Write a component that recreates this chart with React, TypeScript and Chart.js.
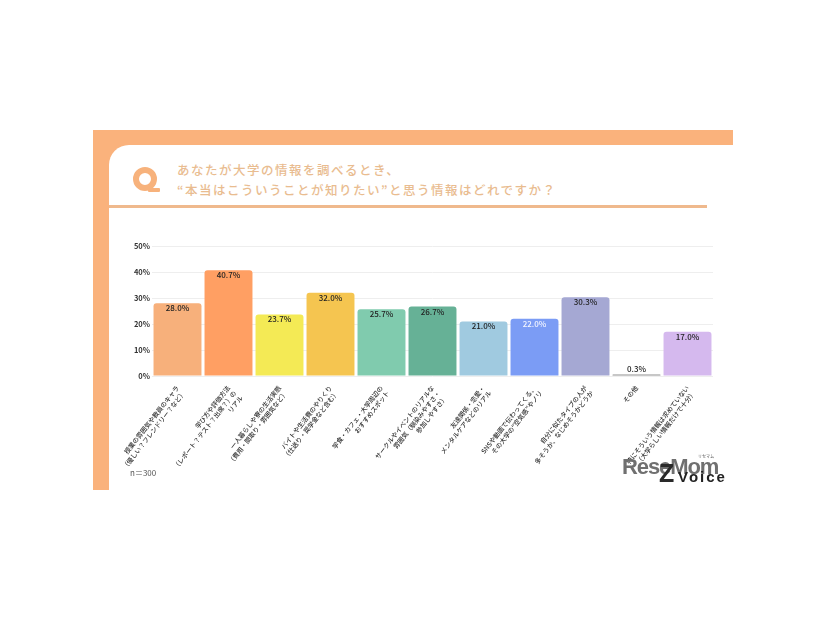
import React, { useEffect, useRef } from "react";
import { Chart, registerables } from "chart.js";

Chart.register(...registerables);

const categories: string[][] = [
  ["授業の雰囲気や教員のキャラ", "（優しい？フレンドリー？など）"],
  ["学び方や評価方法", "（レポート？テスト？出席？）の", "リアル"],
  ["一人暮らしや寮の生活実態", "（費用・間取り・雰囲気など）"],
  ["バイトや生活費のやりくり", "（仕送り・奨学金など含む）"],
  ["学食・カフェ・大学周辺の", "おすすめスポット"],
  ["サークルやイベントのリアルな", "雰囲気（馴染みやすさ・", "参加しやすさ）"],
  ["友達関係・恋愛・", "メンタルケアなどのリアル"],
  ["SNSや動画で伝わってくる、", "その大学の“空気感”やノリ"],
  ["自分に似たタイプの人が", "多そうか、なじめそうかどうか"],
  ["その他"],
  ["特にそういう情報は求めていない", "（大学らしい情報だけで十分）"],
];
const values = [28.0, 40.7, 23.7, 32.0, 25.7, 26.7, 21.0, 22.0, 30.3, 0.3, 17.0];
const barColors = ["#F7B07B", "#FF9F63", "#F4EA55", "#F5C550", "#80CBAE", "#66B196", "#A0CAE0", "#7B9CF5", "#A5A8D3", "#8F8F8F", "#D5B9EE"];
const valueColors = ["#222", "#222", "#222", "#222", "#222", "#222", "#222", "#F4F6FF", "#222", "#222", "#222"];
const yTicks = [0, 10, 20, 30, 40, 50];
const titleLines = ["あなたが大学の情報を調べるとき、", "“本当はこういうことが知りたい”と思う情報はどれですか？"];

const FONT = '"Noto Sans CJK JP", "Noto Sans", sans-serif';

const valueLabels = {
  id: "valueLabels",
  afterDatasetsDraw(chart: any) {
    const { ctx } = chart;
    const meta = chart.getDatasetMeta(0);
    ctx.save();
    ctx.font = `500 8px ${FONT}`;
    ctx.textAlign = "center";
    ctx.textBaseline = "middle";
    meta.data.forEach((bar: any, i: number) => {
      const small = values[i] < 2;
      ctx.fillStyle = valueColors[i];
      ctx.fillText(values[i].toFixed(1) + "%", bar.x, small ? bar.y - 6 : bar.y + 5);
    });
    ctx.restore();
  },
};

export default function App() {
  const ref = useRef<HTMLCanvasElement>(null);
  useEffect(() => {
    const chart = new Chart(ref.current!, {
      type: "bar",
      data: {
        labels: categories,
        datasets: [
          {
            data: values,
            backgroundColor: barColors,
            borderRadius: { topLeft: 3, topRight: 3 },
            borderSkipped: "bottom",
            categoryPercentage: 1,
            barPercentage: 0.94,
            minBarLength: 1.5,
          },
        ],
      },
      options: {
        animation: false,
        responsive: false,
        maintainAspectRatio: false,
        layout: { padding: { left: 0, top: 246, right: 113, bottom: 0 } },
        plugins: { legend: { display: false }, tooltip: { enabled: false } },
        scales: {
          x: {
            grid: { display: false },
            border: { display: false },
            ticks: {
              autoSkip: false,
              minRotation: 52,
              maxRotation: 52,
              padding: 0,
              color: "#333",
              font: { family: FONT, size: 6.5, weight: 500, lineHeight: 1.25 },
            },
            afterFit(scale: any) {
              scale.height = 244;
            },
          },
          y: {
            min: 0,
            max: 50,
            border: { display: false },
            grid: { color: "#EEEEEE", lineWidth: 1, drawTicks: false },
            afterBuildTicks(scale: any) {
              scale.ticks = yTicks.map((value) => ({ value }));
            },
            ticks: {
              padding: 2,
              color: "#333",
              font: { family: FONT, size: 7.5, weight: 700 },
              callback: (v: any) => v + "%",
            },
            afterFit(scale: any) {
              scale.width = 152;
            },
          },
        },
      },
      plugins: [valueLabels],
    });
    return () => chart.destroy();
  }, []);

  const abs = (s: React.CSSProperties): React.CSSProperties => ({ position: "absolute", ...s });
  return (
    <div style={abs({ left: 0, top: 0, width: 826, height: 620, background: "#fff", overflow: "hidden", fontFamily: FONT })}>
      <div style={abs({ left: 93, top: 130, width: 640, height: 360, background: "#FAB27C" })} />
      <div style={abs({ left: 109, top: 145, width: 624, height: 345, background: "#fff", borderTopLeftRadius: 20 })} />
      <div style={abs({ left: 109, top: 205, width: 598, height: 3, background: "#EFB98D" })} />
      <div style={abs({ left: 133, top: 167, width: 12, height: 12, border: "6px solid #F7B27C", borderRadius: "50%" })} />
      <div style={abs({ left: 148, top: 188, width: 12, height: 4, background: "#F7B27C", borderRadius: 1 })} />
      {titleLines.map((t, i) => (
        <div key={i} style={abs({ left: 177, top: 160 + i * 20, fontSize: 12.5, lineHeight: "20px", letterSpacing: 1.5, fontWeight: 500, color: "#E9BC90", whiteSpace: "nowrap" })}>
          {t}
        </div>
      ))}
      <canvas ref={ref} width={826} height={620} style={abs({ left: 0, top: 0, width: 826, height: 620 })} />
      <div style={abs({ left: 130, top: 467, fontSize: 8, lineHeight: "12px", color: "#555" })}>n＝300</div>
      <div style={abs({ left: 622, top: 453, fontSize: 22, lineHeight: "28px", fontWeight: 700, color: "#707070", fontFamily: '"Liberation Sans", sans-serif', letterSpacing: -1.1 })}>ReseMom</div>
      <div style={abs({ left: 698, top: 453, fontSize: 4, lineHeight: "6px", color: "#555" })}>リセマム</div>
      <div style={abs({ left: 659, top: 459, fontSize: 25, lineHeight: "28px", fontWeight: 700, color: "#2A2A2A", fontFamily: '"Liberation Sans", sans-serif' })}>Z</div>
      <div style={abs({ left: 678, top: 467, fontSize: 15, lineHeight: "20px", fontWeight: 700, color: "#222", letterSpacing: 2, fontFamily: '"Liberation Sans", sans-serif' })}>Voice</div>
    </div>
  );
}
